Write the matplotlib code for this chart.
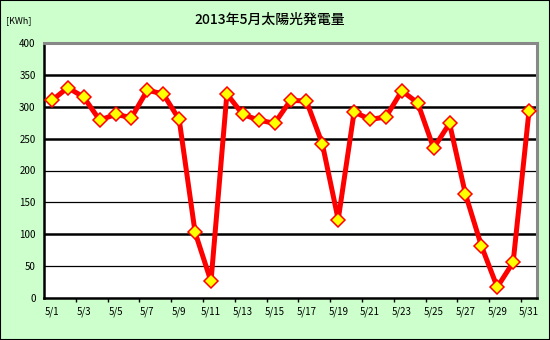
import matplotlib
matplotlib.use('Agg')
import matplotlib.pyplot as plt
import numpy as np

plt.rcParams['font.family'] = ['Noto Sans CJK JP', 'DejaVu Sans']

days = ['5/%d' % d for d in range(1, 32)]
kwh = [310, 330, 315, 279, 288, 283, 326, 320, 280, 103,
       26, 320, 288, 279, 274, 310, 309, 242, 123, 292,
       280, 284, 325, 306, 235, 274, 163, 82, 17, 56, 294]
thick_grid = [100, 250, 300, 350]
thin_grid = [50, 150, 200]

bg = '#CCFFCC'

fig = plt.figure(figsize=(5.5, 3.4), dpi=100, facecolor=bg)
ax = fig.add_axes([44 / 550, 42 / 340, 493 / 550, 255 / 340])
ax.set_facecolor('white')

x = np.arange(len(days))
for g in thick_grid:
    ax.axhline(g, color='black', lw=1.8, zorder=1)
for g in thin_grid:
    ax.axhline(g, color='black', lw=0.9, zorder=1)

ax.plot(x, kwh, color='#FF0000', lw=3.6, zorder=3,
        marker='D', markersize=7.5, markerfacecolor='#FFFF00',
        markeredgecolor='#FF0000', markeredgewidth=1.1, clip_on=False)

ax.set_xlim(-0.5, len(days) - 0.5)
ax.set_ylim(0, 400)
ax.set_yticks(range(0, 401, 50))
ax.tick_params(axis='y', length=0, labelsize=7, pad=6)

# category ticks at boundaries, labels every other day
ax.set_xticks(np.arange(1.5, len(days), 2), minor=False)
ax.set_xticklabels([])
ax.set_xticks(x[::2], minor=True)
ax.set_xticklabels(days[::2], minor=True)
ax.tick_params(axis='x', which='major', length=3, width=1, direction='out', color='black')
ax.tick_params(axis='x', which='minor', length=0, labelsize=7, pad=6)

for s in ['left', 'bottom']:
    ax.spines[s].set_color('black')
    ax.spines[s].set_linewidth(1.8)
for s in ['top', 'right']:
    ax.spines[s].set_color('#888888')
    ax.spines[s].set_linewidth(2.2)

fig.text(270 / 550, 1 - 20 / 340, '2013年5月太陽光発電量', ha='center', va='center',
         fontsize=10, fontweight='medium')
fig.text(6 / 550, 1 - 21 / 340, '[KWh]', ha='left', va='center', fontsize=6.5)

border = plt.Rectangle((0, 0), 1, 1, transform=fig.transFigure, fill=False,
                       edgecolor='black', lw=1.5)
fig.patches.append(border)

fig.savefig('out.png', dpi=100, facecolor=bg)
